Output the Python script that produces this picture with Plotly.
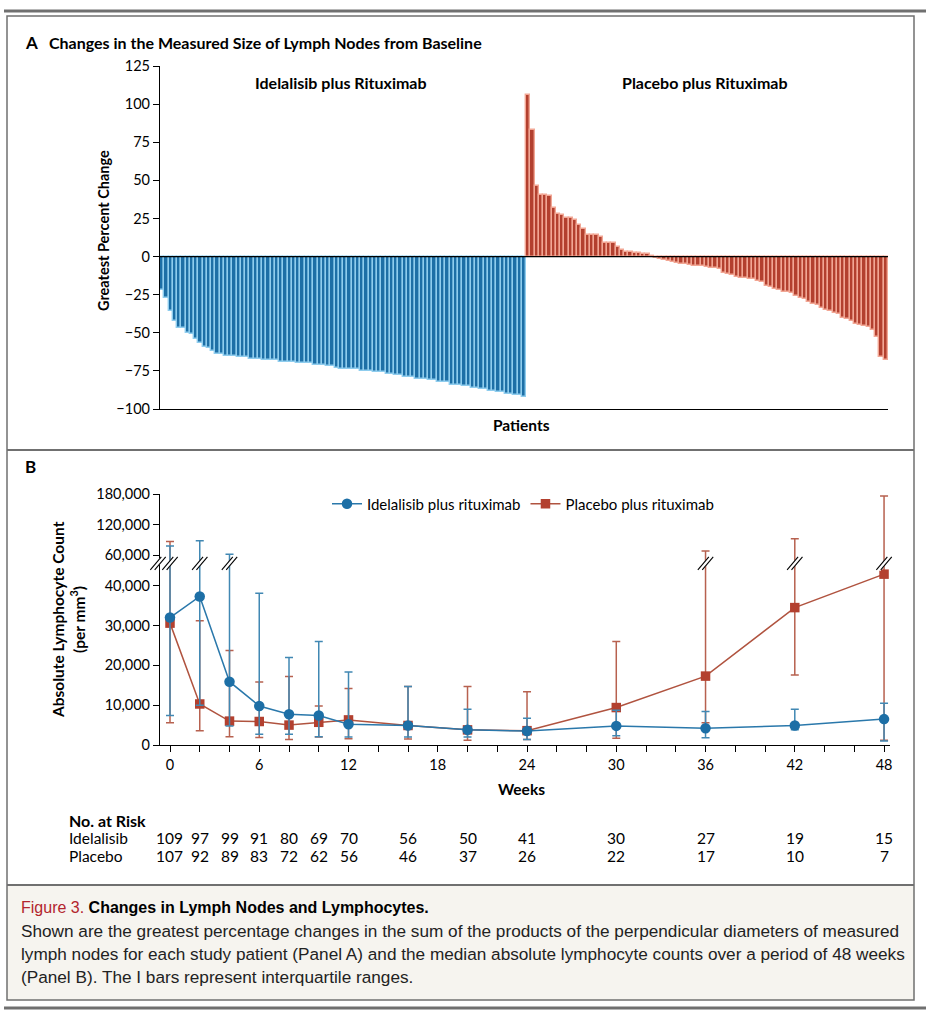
import plotly.graph_objects as go

# ---------------- Panel A data (greatest % change per patient) ----------------
idela_change = [-22, -27, -36, -42, -47, -47, -50, -51, -54, -57,
                -59, -60, -62, -64, -64, -65, -65, -65, -66, -66,
                -66, -67, -67, -67, -68, -68, -68, -68, -69, -69,
                -69, -69, -70, -70, -70, -70, -71, -71, -71, -72,
                -72, -73, -74, -74, -74, -74, -74, -75, -75, -75,
                -76, -76, -76, -77, -77, -78, -78, -79, -79, -79,
                -80, -80, -80, -81, -81, -82, -82, -82, -84, -84,
                -84, -85, -85, -86, -86, -87, -87, -88, -88, -89,
                -89, -90, -90, -91, -91, -92]
placebo_change = [106, 83, 46, 40.6, 40.6, 40, 32, 28, 27.5, 25,
                  25, 24, 21, 18, 14, 14, 14, 13, 9, 9,
                  9, 6, 4, 3, 3, 2.5, 2.4, 2, 1.5, 0.5,
                  -0.8, -1.5, -2, -3, -3.5, -4, -5, -5, -5.5, -6,
                  -6, -6.5, -7, -7.5, -7.5, -8, -11, -11.5, -12, -13.5,
                  -14, -14, -14.5, -15, -16, -17, -19, -20, -21, -22,
                  -23, -23.5, -24, -26, -27, -28, -30, -31, -32, -34,
                  -35, -36, -37, -38, -40, -41, -42, -44, -45, -45.5,
                  -46, -48, -53, -66, -68]
a_yticks = [-100, -75, -50, -25, 0, 25, 50, 75, 100, 125]

# ---------------- Panel B data (median lymphocyte count, IQR) ----------------
weeks = [0, 2, 4, 6, 8, 10, 12, 16, 20, 24, 30, 36, 42, 48]
idela_median = [32000, 37300, 15900, 9800, 7700, 7400, 5200, 4900, 3800, 3500, 4800, 4200, 4900, 6500]
idela_q1 = [7400, 10000, 4800, 2700, 2700, 2100, 2000, 2000, 2000, 1400, 2300, 1800, 3800, 1000]
idela_q3 = [78000, 88000, 61600, 38100, 22000, 26000, 18300, 14700, 9000, 6700, 8700, 8400, 9000, 10500]
placebo_median = [30600, 10300, 6000, 5900, 5000, 5700, 6300, 4900, 3800, 3600, 9400, 17300, 34500, 42900]
placebo_q1 = [5600, 3600, 2100, 1900, 1400, 2000, 1600, 1500, 1200, 1400, 1700, 5600, 17600, 1200]
placebo_q3 = [86600, 31200, 23700, 15800, 17200, 9800, 14200, 14700, 14700, 13400, 26000, 67800, 91800, 176000]
b_ytick_vals = [0, 10000, 20000, 30000, 40000, 60000, 120000, 180000]
b_ytick_text = ["0", "10,000", "20,000", "30,000", "40,000", "60,000", "120,000", "180,000"]
idela_risk = [109, 97, 99, 91, 80, 69, 70, 56, 50, 41, 30, 27, 19, 15]
placebo_risk = [107, 92, 89, 83, 72, 62, 56, 46, 37, 26, 22, 17, 10, 7]

# ---------------- helpers ----------------
W, H = 931, 1024
FONT = "Lato, 'Open Sans', sans-serif"
CAPFONT = "'Liberation Sans Narrow', 'Liberation Sans', Arial, sans-serif"
BLUE = "#1d6fa6"
BLUE_LIGHT = "#8fcdee"
RED = "#b3402f"
RED_LIGHT = "#f2a795"
BLUE_LINE = "#2a78ab"
RED_LINE = "#b0533f"
BLUE_ERR = "#4188b3"
RED_ERR = "#b7614f"


def px(x):
    return x / W


def py(y):
    return 1 - y / H


# broken-axis scale (values -> display units, thousands below the break)
BREAK_LO, BREAK_HI = 45.0, 60.0
HI_BASE, HI_SLOPE = 47.7, 0.1277


def T(v):
    k = v / 1000.0
    if k <= BREAK_LO:
        return k
    if k >= BREAK_HI:
        return HI_BASE + (k - BREAK_HI) * HI_SLOPE
    return BREAK_LO + (k - BREAK_LO) * (HI_BASE - BREAK_LO) / (BREAK_HI - BREAK_LO)


B_YMAX = T(180000)
B_XRANGE = [-0.672, 48.4]
B_XDOM = [px(160), px(890)]
B_YDOM = [py(745), py(494)]
A_XDOM = [px(160), px(888)]
A_YDOM = [py(409), py(66)]

fig = go.Figure()

# ---------------- Panel A bars ----------------
n_i = len(idela_change)
n_p = len(placebo_change)
fig.add_trace(go.Bar(x=list(range(n_i)), y=idela_change, marker=dict(color=BLUE, line=dict(color=BLUE_LIGHT, width=1.4)),
                     xaxis="x", yaxis="y", showlegend=False, hoverinfo="y"))
fig.add_trace(go.Bar(x=list(range(n_i, n_i + n_p)), y=placebo_change, marker=dict(color=RED, line=dict(color=RED_LIGHT, width=1.4)),
                     xaxis="x", yaxis="y", showlegend=False, hoverinfo="y"))

# ---------------- Panel B lines ----------------
def series(med, q1, q3, name, color, lcolor, ecolor, symbol, size):
    d = [T(v) for v in med]
    up = [T(b) - a for a, b in zip(d, q3)]
    dn = [a - T(b) for a, b in zip(d, q1)]
    return go.Scatter(x=weeks, y=d, mode="lines+markers", name=name,
                      line=dict(color=lcolor, width=1.5),
                      marker=dict(color=color, symbol=symbol, size=size),
                      error_y=dict(type="data", array=up, arrayminus=dn, color=ecolor, thickness=1.5, width=4),
                      xaxis="x2", yaxis="y2", hoverinfo="x+name")

fig.add_trace(series(placebo_median, placebo_q1, placebo_q3, "Placebo plus rituximab", RED, RED_LINE, RED_ERR, "square", 9.5))
fig.add_trace(series(idela_median, idela_q1, idela_q3, "Idelalisib plus rituximab", BLUE, BLUE_LINE, BLUE_ERR, "circle", 10.5))

shapes = []
# zero line panel A
shapes.append(dict(type="line", xref="x", yref="y", x0=-0.5, x1=n_i + n_p - 0.5, y0=0, y1=0,
                   line=dict(color="black", width=1.2), layer="above"))

# break marks
BRK = 45.6
b_pxw = (B_XDOM[1] - B_XDOM[0]) * W / (B_XRANGE[1] - B_XRANGE[0])
b_pxh = (B_YDOM[1] - B_YDOM[0]) * H / B_YMAX


def brk(xc_px, yc_px):
    out = []
    dx, dy, off = 5.5, 6.5, 2.2
    out.append(dict(type="line", xref="paper", yref="paper",
                    x0=px(xc_px - dx), y0=py(yc_px + dy), x1=px(xc_px + dx), y1=py(yc_px - dy),
                    line=dict(color="white", width=4), layer="above"))
    for o in (-off, off):
        out.append(dict(type="line", xref="paper", yref="paper",
                        x0=px(xc_px - dx + o), y0=py(yc_px + dy), x1=px(xc_px + dx + o), y1=py(yc_px - dy),
                        line=dict(color="black", width=1.1), layer="above"))
    return out


yc_pix = 745 - BRK * b_pxh
shapes += brk(158, yc_pix)
for i, w in enumerate(weeks):
    if max(idela_q3[i], placebo_q3[i]) > BREAK_LO * 1000:
        xc = 160 + (w - B_XRANGE[0]) * b_pxw
        shapes += brk(xc, yc_pix)

# frame lines
GRAY = "#707070"
shapes += [
    dict(type="line", xref="paper", yref="paper", x0=px(4), x1=px(926), y0=py(11), y1=py(11), line=dict(color=GRAY, width=3)),
    dict(type="rect", xref="paper", yref="paper", x0=px(7), x1=px(914), y0=py(885), y1=py(1000),
         fillcolor="#f6f4ef", line=dict(width=0), layer="below"),
    dict(type="rect", xref="paper", yref="paper", x0=px(7), x1=px(914), y0=py(16), y1=py(1000),
         line=dict(color=GRAY, width=1.5)),
    dict(type="line", xref="paper", yref="paper", x0=px(7), x1=px(914), y0=py(450), y1=py(450), line=dict(color=GRAY, width=2)),
    dict(type="line", xref="paper", yref="paper", x0=px(7), x1=px(914), y0=py(885), y1=py(885), line=dict(color=GRAY, width=2)),
    dict(type="line", xref="paper", yref="paper", x0=px(4), x1=px(926), y0=py(1008), y1=py(1008), line=dict(color=GRAY, width=3)),
]

ann = []


def text(x, y, s, size=14, bold=False, xanchor="left", color="black", font=FONT, angle=0, yanchor="middle"):
    ann.append(dict(x=px(x), y=py(y), xref="paper", yref="paper", text=f"<b>{s}</b>" if bold else s,
                    showarrow=False, xanchor=xanchor, yanchor=yanchor, textangle=angle,
                    font=dict(family=font, size=size, color=color)))


text(23, 42, "A", 17, True)
text(47, 42, "Changes in the Measured Size of Lymph Nodes from Baseline", 16, True)
text(341, 82, "Idelalisib plus Rituximab", 16, True, "center")
text(705, 82, "Placebo plus Rituximab", 16, True, "center")
text(521, 425, "Patients", 15.5, True, "center")
text(103, 231, "Greatest Percent Change", 14.5, True, "center", angle=-90)
text(23, 466, "B", 17, True)
text(521, 789, "Weeks", 15.5, True, "center")
text(58, 620, "Absolute Lymphocyte Count", 15.5, True, "center", angle=-90)
text(77, 620, "(per mm<sup>3</sup>)", 15.5, True, "center", angle=-90)
text(67, 820, "No. at Risk", 16, True)
text(67, 838, "Idelalisib", 15.5)
text(67, 856, "Placebo", 15.5)
for i, w in enumerate(weeks):
    xc = 160 + (w - B_XRANGE[0]) * b_pxw
    text(xc, 838, str(idela_risk[i]), 15.5, xanchor="center")
    text(xc, 856, str(placebo_risk[i]), 15.5, xanchor="center")

text(19, 907, "<span style='color:#b3252d'>Figure 3.</span> <b>Changes in Lymph Nodes and Lymphocytes.</b>", 16, font=CAPFONT)
cap_lines = [
    "Shown are the greatest percentage changes in the sum of the products of the perpendicular diameters of measured",
    "lymph nodes for each study patient (Panel A) and the median absolute lymphocyte counts over a period of 48 weeks",
    "(Panel B). The I bars represent interquartile ranges.",
]
for k, s in enumerate(cap_lines):
    text(19, 931 + 23 * k, s, 17.2, font=CAPFONT, color="#222")

fig.update_layout(
    width=W, height=H, margin=dict(l=0, r=0, t=0, b=0, autoexpand=False),
    paper_bgcolor="white", plot_bgcolor="rgba(0,0,0,0)",
    bargap=0, barmode="overlay",
    font=dict(family=FONT, size=14, color="black"),
    shapes=shapes, annotations=ann,
    xaxis=dict(domain=A_XDOM, range=[-0.5, n_i + n_p - 0.5], anchor="y", showline=True, linecolor="black", linewidth=1.2,
               showticklabels=False, ticks="", showgrid=False, zeroline=False, automargin=False),
    yaxis=dict(domain=A_YDOM, range=[-100, 125], anchor="x", showline=True, linecolor="black", linewidth=1.2,
               tickmode="array", tickvals=a_yticks, ticktext=[str(v).replace("-", "\u2212") for v in a_yticks],
               ticks="outside", ticklen=6, tickcolor="black", showgrid=False, zeroline=False,
               tickfont=dict(size=14.5), automargin=False),
    xaxis2=dict(domain=B_XDOM, range=B_XRANGE, anchor="y2", showline=True, linecolor="black", linewidth=1.2,
                tickmode="linear", tick0=0, dtick=6, ticks="outside", ticklen=6, tickcolor="black",
                minor=dict(dtick=2, tick0=0, ticks="outside", ticklen=6, tickcolor="black", showgrid=False),
                showgrid=False, zeroline=False, tickfont=dict(size=14.5), automargin=False),
    yaxis2=dict(domain=B_YDOM, range=[0, B_YMAX], anchor="x2", showline=True, linecolor="black", linewidth=1.2,
                tickmode="array", tickvals=[T(v) for v in b_ytick_vals], ticktext=b_ytick_text,
                ticks="outside", ticklen=6, tickcolor="black", showgrid=False, zeroline=False,
                tickfont=dict(size=14.5), automargin=False),
    legend=dict(orientation="h", x=px(327), y=py(504), xanchor="left", yanchor="middle",
                font=dict(size=15), traceorder="reversed", bgcolor="rgba(0,0,0,0)", itemwidth=30),
)

fig.write_html("out.html", config={"displayModeBar": False},
               post_script="document.body.style.margin='0';")
